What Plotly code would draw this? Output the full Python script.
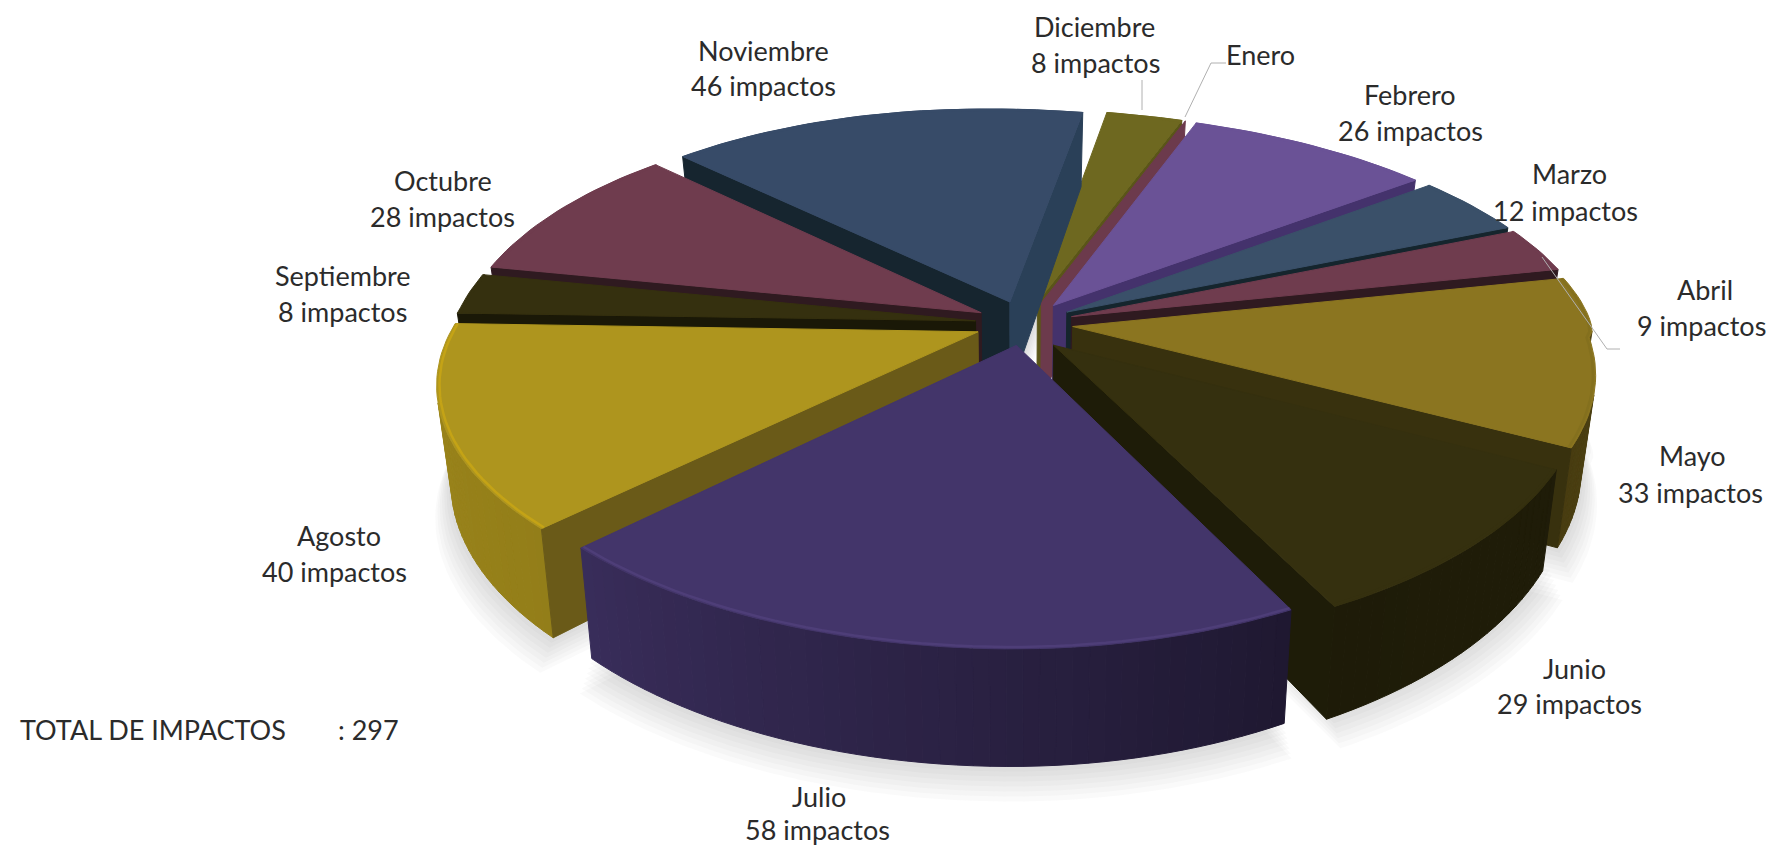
import math
import plotly.graph_objects as go

meses = ["Enero","Febrero","Marzo","Abril","Mayo","Junio","Julio","Agosto","Septiembre","Octubre","Noviembre","Diciembre"]
impactos = [0,26,12,9,33,29,58,40,8,28,46,8]
total = 297

color_top  = ["#6c3a4c","#6a5296","#3a5069","#6f3c4e","#8b7520","#35300f","#43356a","#ae951e","#35300f","#6f3c4e","#374b68","#6e6820"]
color_a    = ["#6c3a4c","#44326c","#15252d","#2f1a20","#38310e","#1e1c08","#2f2650","#6a5a18","#1a1807","#2f1a20","#16252f","#5a5518"]
color_b    = ["#6c3a4c","#44326c","#15252d","#2f1a20","#38310e","#1e1c08","#2f2650","#6a5a18","#1a1807","#2f1a20","#2a4058","#5a5518"]
color_rim  = ["#6c3a4c","#6a5296","#3a5069","#6f3c4e","#84701e","#35300f","#4e3e78","#c4a316","#35300f","#6f3c4e","#374b68","#6e6820"]
wall_shade = [(.7,.7),(.7,.7),(.7,.7),(.7,.7),(.6,.52),(.6,.58),(.47,.85),(.85,.9),(.7,.7),(.7,.7),(.7,.7),(.7,.7)]
nudge = {"Junio":(-5,6)}

label_pos = {"Enero":((1260,54),None),"Febrero":((1410,94),(1410,130)),"Marzo":((1569,173),(1565,210)),
 "Abril":((1705,289),(1701,325)),"Mayo":((1692,455),(1690,492)),"Junio":((1574,668),(1569,703)),
 "Julio":((819,796),(817,829)),"Agosto":((339,535),(334,571)),"Septiembre":((343,275),(342,311)),
 "Octubre":((443,180),(442,216)),"Noviembre":((763,50),(763,85)),"Diciembre":((1094,26),(1095,62))}
leaders = [[(1142,80),(1142,110)],[(1226,63),(1211,63),(1185,117)],[(1620,349),(1607,349),(1542,257)]]

# projection parameters
cx,cy,R,b,p,t,sx,h,e0,start = 1015,325,525,0.449,0.207,0.02,0.07,91,0.095,18.0

def proj(X,Y,z=0.0,n=(0,0)):
    k = 1/(1+p*Y)
    x = cx+R*k*(X+sx*min(Y,0))
    y = cy-R*k*(b*Y-t*X)+h*k*z
    yb = max(Y,0); yf = -min(Y,0); lft = (1-X)/2
    x += 18*lft + 12*lft*yf + 38*math.sqrt(yb)*max(0.2+0.8*X,0) - 18*max(X,0)*yf*yf
    y += -3*lft - 16*lft*yf - 4*yb
    x = cx+(x-cx)*(1-0.025*z)
    return x+n[0],y+n[1]

def hex2(c,f):
    r,g,bb = int(c[1:3],16),int(c[3:5],16),int(c[5:7],16)
    return "rgb(%d,%d,%d)"%(min(255,r*f),min(255,g*f),min(255,bb*f))

def shoelace(pts):
    return sum(pts[i][0]*pts[(i+1)%len(pts)][1]-pts[(i+1)%len(pts)][0]*pts[i][1] for i in range(len(pts)))

fig = go.Figure()
def poly(pts,color,name=None,lw=1.0):
    fig.add_trace(go.Scatter(x=[q[0] for q in pts]+[pts[0][0]],y=[q[1] for q in pts]+[pts[0][1]],mode="lines",
        fill="toself",fillcolor=color,line=dict(color=color,width=lw),showlegend=False,
        hoverinfo="text" if name else "skip",text=name))

slices=[]
th=start
for i,(m,v) in enumerate(zip(meses,impactos)):
    a=th; bb=th+v/total*360; th=bb
    mid=math.radians((a+bb)/2)
    slices.append(dict(i=i,m=m,v=v,a=a,b=bb,ex=e0*math.sin(mid),ey=e0*math.cos(mid),depth=math.cos(mid)))

def pt(s,deg,r=1.0):
    d=math.radians(deg)
    return s["ex"]+r*math.sin(d), s["ey"]+r*math.cos(d)

def arc(s):
    n=max(2,int((s["b"]-s["a"])/1.5)+1)
    return [s["a"]+(s["b"]-s["a"])*j/n for j in range(n+1)]

# soft shadow under the pie
for layer in range(7,0,-1):
    for s in slices:
        if s["v"]==0: continue
        off=layer*5
        pts=[proj(*pt(s,d),1) for d in arc(s)]+[proj(*pt(s,s["a"],0),1)]
        pts=[(x+(x-cx)*0.004*layer,y+off) for x,y in pts]
        poly(pts,"rgba(120,120,120,0.035)",lw=0)

for s in sorted(slices,key=lambda q:-q["depth"]):
    i=s["i"]; n=nudge.get(s["m"],(0,0))
    apex=pt(s,s["a"],0)
    ds=arc(s)
    f0,f1=wall_shade[i]
    for j,(d1,d2) in enumerate(zip(ds[:-1],ds[1:])):
        P1,P2=pt(s,d1),pt(s,d2)
        q=[proj(*P1,0,n),proj(*P2,0,n),proj(*P2,1,n),proj(*P1,1,n)]
        if shoelace(q)<0:
            poly(q,hex2(color_top[i],f0+(f1-f0)*j/max(1,len(ds)-2)))
    qa=[proj(*apex,0,n),proj(*pt(s,s["a"]),0,n),proj(*pt(s,s["a"]),1,n),proj(*apex,1,n)]
    if shoelace(qa)<0: poly(qa,color_a[i])
    qb=[proj(*apex,0,n),proj(*pt(s,s["b"]),0,n),proj(*pt(s,s["b"]),1,n),proj(*apex,1,n)]
    if shoelace(qb)>0: poly(qb,color_b[i])
    if s["v"]>0:
        pts=[proj(*apex,0,n)]+[proj(*pt(s,d),0,n) for d in ds]
        poly(pts,color_top[i],name=f"{s['m']}: {s['v']} impactos")
        rim=[proj(*pt(s,d,0.995),0,n) for d in ds]
        fig.add_trace(go.Scatter(x=[q[0] for q in rim],y=[q[1] for q in rim],mode="lines",
            line=dict(color=color_rim[i],width=2.5),showlegend=False,hoverinfo="skip"))

for l in leaders:
    fig.add_trace(go.Scatter(x=[q[0] for q in l],y=[q[1] for q in l],mode="lines",line=dict(color="#b0b0b0",width=1),showlegend=False,hoverinfo="skip"))

F=dict(family="Lato",size=27,color="#2b2b2b")
def lab(x,y,txt,anchor="center"):
    fig.add_annotation(x=x,y=y,text=txt,showarrow=False,font=F,xanchor=anchor,yanchor="middle",xref="x",yref="y")
for m,v in zip(meses,impactos):
    p1,p2=label_pos[m]
    lab(p1[0],p1[1],m)
    if p2: lab(p2[0],p2[1],f"{v} impactos")
lab(18,729,"TOTAL DE IMPACTOS","left")
lab(336,729,f": {total}","left")

# the page body has an 8 px margin: the axes count from the window's corner
fig.update_layout(width=1768,height=840,margin=dict(l=0,r=0,t=0,b=0),paper_bgcolor="white",plot_bgcolor="white",showlegend=False,
    xaxis=dict(range=[8,1776],visible=False,fixedrange=True),yaxis=dict(range=[848,8],visible=False,fixedrange=True))
fig.write_html("out.html",config={"displayModeBar":False})
